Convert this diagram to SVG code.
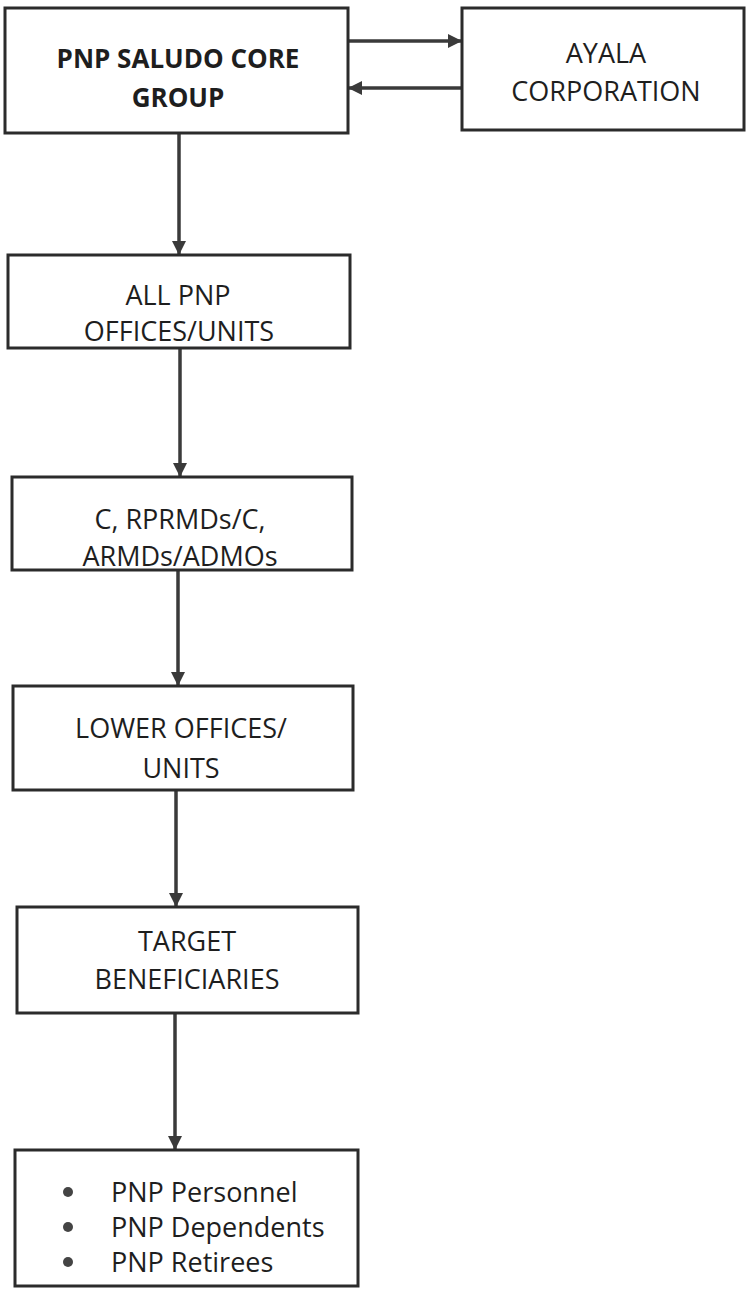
<svg xmlns="http://www.w3.org/2000/svg" width="746" height="1289" viewBox="0 0 746 1289">
<style>
.box{fill:#fff;stroke:#2b2b2b;stroke-width:3}
.t{font-family:"Open Sans","Liberation Sans",sans-serif;font-size:27px;fill:#1e1e1e;text-anchor:middle}
.b{font-weight:bold;font-size:26px}
.l{text-anchor:start}
.c{stroke:#3a3a3a;stroke-width:3.5;fill:none}
</style>
<defs>
<marker id="ah" viewBox="0 0 10 10" refX="10" refY="5" markerWidth="4" markerHeight="4" markerUnits="strokeWidth" orient="auto">
<path d="M0,0 L10,5 L0,10 Z" fill="#3a3a3a"/>
</marker>
</defs>
<rect width="746" height="1289" fill="#fff"/>
<g id="connectors">
<line class="c" x1="348" y1="41" x2="462" y2="41" marker-end="url(#ah)"/>
<line class="c" x1="462" y1="88" x2="348" y2="88" marker-end="url(#ah)"/>
<line class="c" x1="179" y1="133" x2="179" y2="255" marker-end="url(#ah)"/>
<line class="c" x1="180" y1="348" x2="180" y2="477" marker-end="url(#ah)"/>
<line class="c" x1="178" y1="570" x2="178" y2="686" marker-end="url(#ah)"/>
<line class="c" x1="176" y1="790" x2="176" y2="907" marker-end="url(#ah)"/>
<line class="c" x1="175" y1="1013" x2="175" y2="1150" marker-end="url(#ah)"/>
</g>
<g id="core">
<rect class="box" x="5" y="8" width="343" height="125"/>
<text class="t b" x="178" y="68">PNP SALUDO CORE</text>
<text class="t b" x="178" y="107">GROUP</text>
</g>
<g id="ayala">
<rect class="box" x="462" y="8" width="282" height="122"/>
<text class="t" x="606" y="63">AYALA</text>
<text class="t" x="606" y="101">CORPORATION</text>
</g>
<g id="offices">
<rect class="box" x="8" y="255" width="342" height="93"/>
<text class="t" x="178" y="305">ALL PNP</text>
<text class="t" x="179" y="341">OFFICES/UNITS</text>
</g>
<g id="rprmds">
<rect class="box" x="12" y="477" width="340" height="93"/>
<text class="t" x="180" y="529">C, RPRMDs/C,</text>
<text class="t" x="180" y="566">ARMDs/ADMOs</text>
</g>
<g id="lower">
<rect class="box" x="13" y="686" width="340" height="104"/>
<text class="t" x="181" y="738">LOWER OFFICES/</text>
<text class="t" x="181" y="778">UNITS</text>
</g>
<g id="target">
<rect class="box" x="17" y="907" width="341" height="106"/>
<text class="t" x="187" y="951">TARGET</text>
<text class="t" x="187" y="989">BENEFICIARIES</text>
</g>
<g id="beneficiaries">
<rect class="box" x="15" y="1150" width="343" height="136"/>
<circle cx="68" cy="1192" r="5" fill="#444"/>
<circle cx="68" cy="1227" r="5" fill="#444"/>
<circle cx="68" cy="1262" r="5" fill="#444"/>
<text class="t l" x="111" y="1202">PNP Personnel</text>
<text class="t l" x="111" y="1237">PNP Dependents</text>
<text class="t l" x="111" y="1272">PNP Retirees</text>
</g>
</svg>
